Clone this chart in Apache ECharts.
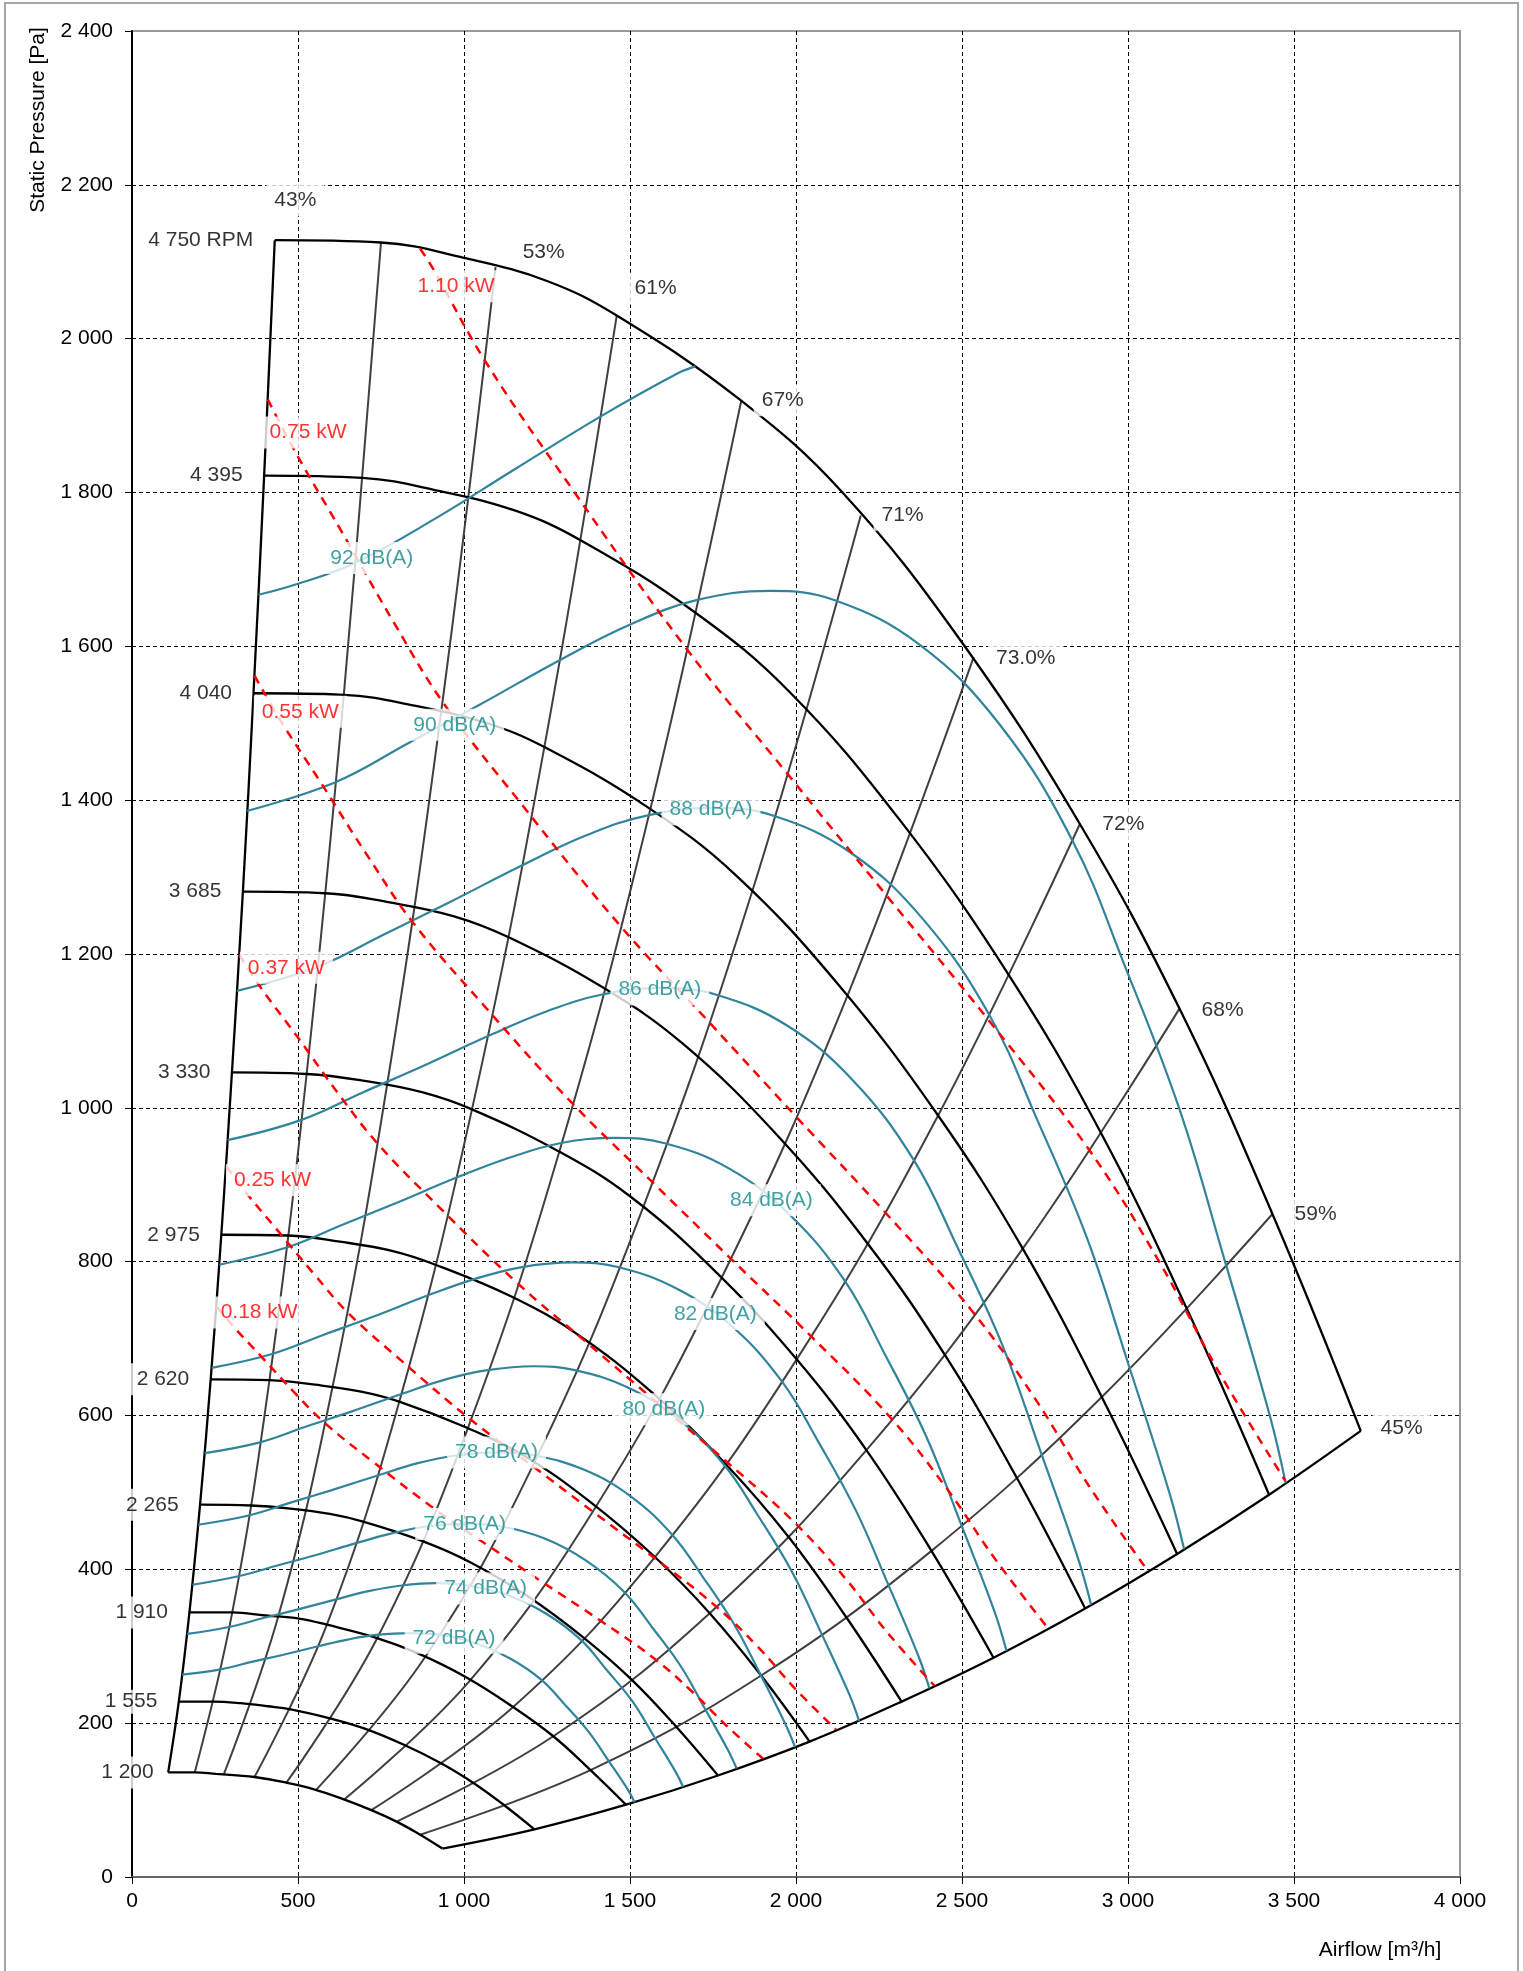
<!DOCTYPE html>
<html>
<head>
<meta charset="utf-8">
<title>Fan performance chart</title>
<script src="https://cdn.jsdelivr.net/npm/echarts/dist/echarts.min.js"></script>
<style>
  html, body { margin: 0; padding: 0; background: #fff; }
  #chart { width: 1523px; height: 1971px; }
</style>
</head>
<body>
<div id="chart"></div>
<script>
// ---- speed curves [airflow m3/h, static pressure Pa] ----
var rpm4750 = [[430,2128],[750,2125],[1000,2105],[1250,2075],[1460,2030],[1830,1921],[2140,1800],[2500,1605],[2855,1369],[3155,1129],[3435,862],[3701,580]];
var rpm4395 = [[398,1822],[694,1819],[925,1802],[1157,1776],[1351,1738],[1693,1645],[1980,1541],[2313,1374],[2642,1172],[2919,967],[3178,738],[3425,497]];
var rpm4040 = [[366,1539],[638,1537],[851,1523],[1063,1501],[1242,1469],[1556,1390],[1820,1302],[2126,1161],[2428,990],[2683,817],[2921,624],[3148,420]];
var rpm3685 = [[334,1281],[582,1279],[776,1267],[970,1249],[1133,1222],[1420,1156],[1660,1083],[1940,966],[2215,824],[2448,679],[2665,519],[2871,349]];
var rpm3330 = [[301,1046],[526,1044],[701,1035],[876,1020],[1024,998],[1283,944],[1500,885],[1753,789],[2002,673],[2212,555],[2408,424],[2595,285]];
var rpm2975 = [[269,835],[470,834],[626,826],[783,814],[914,796],[1146,754],[1340,706],[1566,630],[1788,537],[1976,443],[2151,338],[2318,228]];
var rpm2620 = [[237,647],[414,646],[552,640],[690,631],[805,618],[1009,584],[1180,548],[1379,488],[1575,416],[1740,343],[1895,262],[2041,176]];
var rpm2265 = [[205,484],[358,483],[477,479],[596,472],[696,462],[873,437],[1020,409],[1192,365],[1361,311],[1504,257],[1638,196],[1765,132]];
var rpm1910 = [[173,344],[302,344],[402,340],[503,336],[587,328],[736,311],[860,291],[1005,260],[1148,221],[1269,183],[1381,139],[1488,94]];
var rpm1555 = [[141,228],[246,228],[327,226],[409,222],[478,218],[599,206],[701,193],[819,172],[935,147],[1033,121],[1125,92],[1212,62]];
var rpm1200 = [[109,136],[189,136],[253,134],[316,132],[369,130],[462,123],[541,115],[632,102],[721,87],[797,72],[868,55],[935,37]];
var rpmNames = ['4 750 RPM','4 395','4 040','3 685','3 330','2 975','2 620','2 265','1 910','1 555','1 200'];

// ---- efficiency lines ----
var effLeft  = [[109,136],[141,228],[173,344],[205,484],[237,647],[269,835],[301,1046],[334,1281],[366,1539],[398,1822],[430,2128]];
var effRight = [[935,37],[1212,62],[1488,94],[1765,132],[2041,176],[2318,228],[2595,285],[2871,349],[3148,420],[3425,497],[3701,580]];
var eff1 = [[189,136],[302,344],[414,646],[526,1044],[638,1537],[750,2125]];
var eff2 = [[277,134],[440,338],[604,637],[768,1029],[931,1514],[1095,2093]];
var eff3 = [[369,130],[587,328],[805,618],[1024,998],[1242,1469],[1460,2030]];
var eff4 = [[464,122],[738,310],[1012,584],[1287,943],[1561,1388],[1835,1919]];
var eff5 = [[554,113],[883,286],[1211,538],[1539,870],[1867,1280],[2195,1770]];
var eff6 = [[640,101],[1019,256],[1398,482],[1777,780],[2156,1147],[2535,1586]];
var eff7 = [[721,87],[1148,221],[1575,416],[2002,673],[2428,990],[2855,1369]];
var eff8 = [[797,72],[1269,183],[1740,343],[2212,555],[2683,817],[3155,1129]];
var eff9 = [[868,55],[1381,139],[1895,262],[2408,424],[2921,624],[3435,862]];
var effLabels = [['43%',492,2180],['53%',1240,2112],['61%',1577,2065],['67%',1960,1920],['71%',2321,1771],
                 ['73.0%',2692,1585],['72%',2986,1369],['68%',3285,1127],['59%',3565,862],['45%',3824,584]];

// ---- shaft power lines ----
var kw110 = [[868,2117],[904,2093],[1068,1968],[1330,1802],[1670,1597],[1973,1435],[2269,1278],[2582,1113],[2877,949],[3094,800],[3272,658],[3474,515]];
var kw075 = [[409,1921],[494,1851],[629,1751],[790,1630],[940,1525],[1171,1396],[1470,1237],[1737,1112],[1997,990],[2273,862],[2532,735],[2723,620],[2880,510],[3058,399]];
var kw055 = [[369,1562],[445,1505],[567,1424],[712,1326],[848,1240],[1056,1135],[1326,1006],[1566,904],[1801,805],[2050,701],[2283,598],[2456,504],[2597,415],[2758,324]];
var kw037 = [[323,1199],[390,1155],[497,1093],[624,1017],[743,952],[925,871],[1161,772],[1372,694],[1578,618],[1796,538],[2000,459],[2151,387],[2275,318],[2416,249]];
var kw025 = [[284,924],[343,890],[436,842],[548,784],[652,733],[812,671],[1019,595],[1204,535],[1385,476],[1576,414],[1756,353],[1888,298],[1997,245],[2120,192]];
var kw018 = [[254,742],[307,715],[391,676],[491,629],[584,589],[728,539],[913,478],[1079,429],[1241,382],[1412,333],[1573,284],[1692,239],[1790,197],[1900,154]];
var kwLabels = [['1.10 kW',976,2068],['0.75 kW',530,1878],['0.55 kW',507,1515],['0.37 kW',465,1182],['0.25 kW',423,906],['0.18 kW',383,734]];

// ---- sound lines ----
var db92 = [[381,1667],[490,1680],[670,1708],[917,1767],[1148,1829],[1412,1899],[1644,1955],[1697,1964]];
var db90 = [[347,1386],[611,1423],[836,1475],[1047,1524],[1288,1582],[1499,1628],[1700,1660],[1921,1672],[2117,1660],[2373,1602],[2614,1498],[2832,1348],[2990,1185],[3156,997],[3291,802],[3427,600],[3475,512]];
var db88 = [[316,1152],[557,1183],[762,1226],[955,1267],[1174,1315],[1367,1354],[1550,1380],[1752,1390],[1930,1380],[2164,1332],[2383,1245],[2582,1121],[2726,985],[2878,829],[3001,667],[3125,499],[3169,426]];
var db86 = [[288,958],[508,984],[695,1020],[870,1053],[1071,1093],[1246,1125],[1413,1147],[1597,1156],[1760,1147],[1973,1107],[2173,1035],[2355,932],[2486,819],[2624,689],[2736,554],[2849,415],[2889,354]];
var db84 = [[263,796],[463,818],[634,848],[794,876],[976,909],[1136,935],[1289,954],[1456,961],[1605,954],[1799,921],[1981,861],[2147,775],[2266,681],[2392,573],[2495,461],[2598,345],[2634,294]];
var db82 = [[240,662],[422,680],[578,705],[724,728],[890,756],[1036,778],[1175,793],[1328,799],[1463,793],[1640,765],[1807,716],[1958,644],[2067,566],[2181,476],[2275,383],[2369,287],[2402,245]];
var db80 = [[219,551],[385,565],[527,586],[660,605],[812,628],[945,647],[1071,659],[1211,664],[1334,659],[1495,636],[1647,595],[1785,535],[1884,471],[1989,396],[2074,319],[2160,238],[2190,203]];
var db78 = [[199,458],[351,470],[480,487],[602,503],[740,522],[861,538],[977,548],[1104,552],[1216,548],[1364,529],[1502,495],[1627,445],[1718,391],[1813,329],[1891,265],[1969,198],[1997,169]];
var db76 = [[182,380],[320,391],[438,405],[549,418],[675,434],[785,447],[891,456],[1006,459],[1109,456],[1243,440],[1369,411],[1484,370],[1566,325],[1653,274],[1724,220],[1795,165],[1821,141]];
var db74 = [[166,316],[292,325],[399,337],[500,348],[615,361],[716,372],[812,379],[918,382],[1011,379],[1134,366],[1249,342],[1353,308],[1428,270],[1508,228],[1572,183],[1637,137],[1660,117]];
var db72 = [[151,263],[266,270],[364,280],[456,289],[561,300],[653,309],[741,315],[837,317],[922,315],[1034,304],[1139,284],[1234,256],[1302,225],[1375,189],[1434,152],[1493,114],[1514,97]];
var dbLabels = [['92 dB(A)',722,1715],['90 dB(A)',972,1498],['88 dB(A)',1744,1388],['86 dB(A)',1590,1154],['84 dB(A)',1926,880],
                ['82 dB(A)',1757,732],['80 dB(A)',1602,608],['78 dB(A)',1098,552],['76 dB(A)',1002,459],['74 dB(A)',1065,375],['72 dB(A)',970,311]];

var FONT = '"Liberation Sans", Arial, sans-serif';
var TEAL = '#31849b', TEAL_TEXT = '#118a8a', RED = '#ff0000', GREY = '#404040';

function thousands(v) {
  return String(v).replace(/\B(?=(\d{3})+(?!\d))/g, ' ');
}

function curve(pts, color, width, dash, z) {
  return {
    type: 'line', data: pts, smooth: 0.4, symbol: 'none', silent: true, z: z,
    lineStyle: { color: color, width: width, type: dash || 'solid' }
  };
}

// white-boxed text labels, drawn on their own layer above all lines
function labels(items, color, extra) {
  var s = {
    type: 'scatter', silent: true, zlevel: 1, z: 10, clip: false,
    symbol: 'circle', symbolSize: 1, itemStyle: { color: 'rgba(0,0,0,0)' },
    data: items.map(function (it) {
      var d = { name: it[0], value: [it[1], it[2]] };
      if (it[3]) { d.label = it[3]; }
      return d;
    }),
    label: {
      show: true, position: 'inside', formatter: '{b}', color: color,
      fontSize: 21, fontFamily: FONT, backgroundColor: '#ffffff', padding: [5, 8], lineHeight: 22
    }
  };
  if (extra) { Object.assign(s.label, extra); }
  return s;
}

var rpmCurves = [rpm4750, rpm4395, rpm4040, rpm3685, rpm3330, rpm2975, rpm2620, rpm2265, rpm1910, rpm1555, rpm1200];
var effCurves = [eff1, eff2, eff3, eff4, eff5, eff6, eff7, eff8, eff9];
var kwCurves = [kw110, kw075, kw055, kw037, kw025, kw018];
var dbCurves = [db92, db90, db88, db86, db84, db82, db80, db78, db76, db74, db72];

var series = [];
effCurves.forEach(function (c) { series.push(curve(c, GREY, 2, null, 2)); });
series.push(curve(effLeft, '#000', 2.3, null, 3));
series.push(curve(effRight, '#000', 2.3, null, 3));
rpmCurves.forEach(function (c) { series.push(curve(c, '#000', 2.3, null, 3)); });
dbCurves.forEach(function (c) { series.push(curve(c, TEAL, 2.2, null, 4)); });
kwCurves.forEach(function (c) { series.push(curve(c, RED, 2.5, [9, 7], 5)); });

// speed labels sit just left of each curve's first point
var rpmItems = rpmCurves.map(function (c, i) {
  var tweak = null;
  if (rpmNames[i] === '1 200') { tweak = { distance: 6 }; }
  if (rpmNames[i] === '1 555') { tweak = { padding: [1, 8] }; }   // keep the "200" tick label clear
  return [rpmNames[i], c[0][0], c[0][1], tweak];
});
series.push(labels(rpmItems, '#000', { position: 'left', distance: 13 }));
series.push(labels(effLabels, '#000'));
series.push(labels(kwLabels, RED));
series.push(labels(dbLabels, TEAL_TEXT));

var chart = echarts.init(document.getElementById('chart'), null, { renderer: 'canvas' });
var option = {
  animation: false,
  backgroundColor: '#fff',
  textStyle: { fontFamily: FONT },
  grid: { left: 132, right: 63, top: 31, bottom: 94, show: true, borderColor: '#999', borderWidth: 2 },
  xAxis: {
    type: 'value', min: 0, max: 4000, interval: 500,
    axisLine: { show: true, onZero: false, lineStyle: { color: '#666', width: 2 } },
    axisTick: { show: true, length: 7, lineStyle: { color: '#000' } },
    axisLabel: { color: '#000', fontSize: 21, fontFamily: FONT, margin: 14, formatter: thousands },
    splitLine: { show: true, showMinLine: false, showMaxLine: false, lineStyle: { color: '#000', width: 1, type: [4, 3] } }
  },
  yAxis: {
    type: 'value', min: 0, max: 2400, interval: 200,
    axisLine: { show: true, onZero: false, lineStyle: { color: '#000', width: 2 } },
    axisTick: { show: true, length: 7, lineStyle: { color: '#000' } },
    axisLabel: { color: '#000', fontSize: 21, fontFamily: FONT, margin: 19, formatter: thousands },
    splitLine: { show: true, showMinLine: false, showMaxLine: false, lineStyle: { color: '#000', width: 1, type: [4, 3] } }
  },
  graphic: [
    { type: 'rect', silent: true, z: -10, shape: { x: 5, y: 3, width: 1513, height: 1990 },
      style: { fill: 'none', stroke: '#a6a6a6', lineWidth: 2 } },
    { type: 'text', silent: true, x: 38, y: 120, rotation: Math.PI / 2,
      style: { text: 'Static Pressure [Pa]', font: '21px ' + FONT, fill: '#000', align: 'center', verticalAlign: 'middle' } },
    { type: 'text', silent: true, x: 1380, y: 1950,
      style: { text: 'Airflow [m³/h]', font: '21px ' + FONT, fill: '#000', align: 'center', verticalAlign: 'middle' } }
  ],
  series: series
};
chart.setOption(option);
</script>
</body>
</html>
